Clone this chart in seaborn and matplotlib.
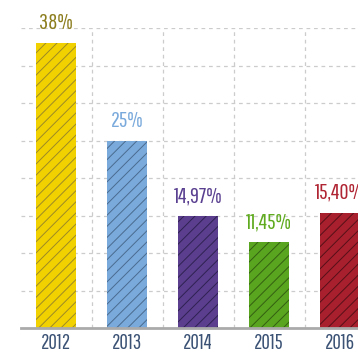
import matplotlib
matplotlib.use("Agg")
import matplotlib.pyplot as plt
import seaborn as sns
import pandas as pd

years = ["2012", "2013", "2014", "2015", "2016"]
shares = [38.0, 25.0, 14.97, 11.45, 15.40]
value_labels = ["38%", "25%", "14,97%", "11,45%", "15,40%"]
bar_colors = ["#F2D100", "#7AAADC", "#5B3F8E", "#5AA51F", "#A8202E"]
stripe_colors = ["#9C8A26", "#4A6B8F", "#2F2152", "#325F12", "#561018"]
label_colors = ["#8C7D1E", "#7AAADC", "#5A4090", "#5FAA1E", "#B02533"]
tick_color = "#3B5275"

sns.set_theme(style="white")
plt.rcParams["font.family"] = ["Pathway Gothic One", "DejaVu Sans"]
plt.rcParams["hatch.linewidth"] = 0.7

df = pd.DataFrame({"year": years, "share": shares})

fig = plt.figure(figsize=(3.58, 3.49), dpi=100)
W, H = 358, 349
ax = fig.add_axes([20.5 / W, 21 / H, 355 / W, 300 / H])

sns.barplot(data=df, x="year", y="share", hue="year", palette=bar_colors,
            legend=False, width=0.56, saturation=1, ax=ax, zorder=2)

# diagonal stripes over each bar
for patch, sc in zip(ax.patches, stripe_colors):
    patch.set_hatch("///")
    patch.set_edgecolor(sc)
    patch.set_linewidth(0)

ax.set_xlim(-0.5, 4.5)
ax.set_ylim(0, 40)
ax.set_yticks(range(5, 45, 5))
ax.set_xticks([0.5, 1.5, 2.5, 3.5], minor=True)
ax.grid(False)
ax.yaxis.grid(True, which="major", color="#CCCCCC", linestyle=(0, (3, 3)), linewidth=0.9, zorder=1)
ax.xaxis.grid(True, which="minor", color="#CCCCCC", linestyle=(0, (3, 3)), linewidth=0.9, zorder=1)
ax.set_axisbelow(True)
ax.tick_params(axis="y", left=False, labelleft=False)
ax.tick_params(axis="x", which="both", bottom=False, pad=-2.5, labelsize=15, labelcolor=tick_color)
ax.set_xlabel("")
ax.set_ylabel("")
for side in ["left", "right", "top"]:
    ax.spines[side].set_visible(False)
ax.spines["bottom"].set_color("#AAAAAA")
ax.spines["bottom"].set_linewidth(2)

for i, (v, txt, c) in enumerate(zip(shares, value_labels, label_colors)):
    ax.annotate(txt, (i, v), xytext=(0, 7), textcoords="offset points",
                ha="center", va="bottom", fontsize=16, color=c, annotation_clip=False)

fig.savefig("out.png", dpi=100)
